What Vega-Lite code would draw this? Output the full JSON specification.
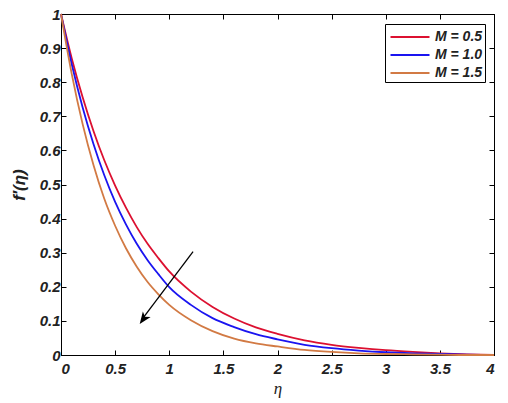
{
  "$schema": "https://vega.github.io/schema/vega-lite/v6.json",
  "width": 433,
  "height": 341,
  "autosize": "none",
  "padding": {"left": 61, "top": 14, "right": 14, "bottom": 48},
  "background": "white",
  "config": {
    "view": {"stroke": "black", "strokeWidth": 1},
    "axis": {
      "grid": false,
      "domainColor": "black",
      "tickColor": "black",
      "tickSize": -5,
      "labelFont": "Liberation Sans",
      "labelFontWeight": "bold",
      "labelFontStyle": "italic",
      "labelFontSize": 15,
      "labelColor": "#222",
      "titleColor": "#222"
    }
  },
  "datasets": {
    "curves": [
      {"eta": 0, "f": 1.0, "M": "M = 0.5"},
      {"eta": 0.1, "f": 0.869, "M": "M = 0.5"},
      {"eta": 0.2, "f": 0.756, "M": "M = 0.5"},
      {"eta": 0.3, "f": 0.657, "M": "M = 0.5"},
      {"eta": 0.4, "f": 0.571, "M": "M = 0.5"},
      {"eta": 0.5, "f": 0.497, "M": "M = 0.5"},
      {"eta": 0.6, "f": 0.432, "M": "M = 0.5"},
      {"eta": 0.7, "f": 0.375, "M": "M = 0.5"},
      {"eta": 0.8, "f": 0.326, "M": "M = 0.5"},
      {"eta": 0.9, "f": 0.284, "M": "M = 0.5"},
      {"eta": 1.0, "f": 0.245, "M": "M = 0.5"},
      {"eta": 1.2, "f": 0.186, "M": "M = 0.5"},
      {"eta": 1.4, "f": 0.141, "M": "M = 0.5"},
      {"eta": 1.6, "f": 0.107, "M": "M = 0.5"},
      {"eta": 1.8, "f": 0.081, "M": "M = 0.5"},
      {"eta": 2.0, "f": 0.062, "M": "M = 0.5"},
      {"eta": 2.25, "f": 0.043, "M": "M = 0.5"},
      {"eta": 2.5, "f": 0.030, "M": "M = 0.5"},
      {"eta": 2.75, "f": 0.021, "M": "M = 0.5"},
      {"eta": 3.0, "f": 0.014, "M": "M = 0.5"},
      {"eta": 3.25, "f": 0.009, "M": "M = 0.5"},
      {"eta": 3.5, "f": 0.005, "M": "M = 0.5"},
      {"eta": 3.75, "f": 0.002, "M": "M = 0.5"},
      {"eta": 4.0, "f": 0.0, "M": "M = 0.5"},
      {"eta": 0, "f": 1.0, "M": "M = 1.0"},
      {"eta": 0.1, "f": 0.852, "M": "M = 1.0"},
      {"eta": 0.2, "f": 0.726, "M": "M = 1.0"},
      {"eta": 0.3, "f": 0.619, "M": "M = 1.0"},
      {"eta": 0.4, "f": 0.527, "M": "M = 1.0"},
      {"eta": 0.5, "f": 0.449, "M": "M = 1.0"},
      {"eta": 0.6, "f": 0.383, "M": "M = 1.0"},
      {"eta": 0.7, "f": 0.326, "M": "M = 1.0"},
      {"eta": 0.8, "f": 0.278, "M": "M = 1.0"},
      {"eta": 0.9, "f": 0.237, "M": "M = 1.0"},
      {"eta": 1.0, "f": 0.199, "M": "M = 1.0"},
      {"eta": 1.2, "f": 0.147, "M": "M = 1.0"},
      {"eta": 1.4, "f": 0.108, "M": "M = 1.0"},
      {"eta": 1.6, "f": 0.082, "M": "M = 1.0"},
      {"eta": 1.8, "f": 0.061, "M": "M = 1.0"},
      {"eta": 2.0, "f": 0.046, "M": "M = 1.0"},
      {"eta": 2.25, "f": 0.030, "M": "M = 1.0"},
      {"eta": 2.5, "f": 0.020, "M": "M = 1.0"},
      {"eta": 2.75, "f": 0.013, "M": "M = 1.0"},
      {"eta": 3.0, "f": 0.008, "M": "M = 1.0"},
      {"eta": 3.25, "f": 0.005, "M": "M = 1.0"},
      {"eta": 3.5, "f": 0.003, "M": "M = 1.0"},
      {"eta": 3.75, "f": 0.001, "M": "M = 1.0"},
      {"eta": 4.0, "f": 0.0, "M": "M = 1.0"},
      {"eta": 0, "f": 1.0, "M": "M = 1.5"},
      {"eta": 0.1, "f": 0.823, "M": "M = 1.5"},
      {"eta": 0.2, "f": 0.677, "M": "M = 1.5"},
      {"eta": 0.3, "f": 0.557, "M": "M = 1.5"},
      {"eta": 0.4, "f": 0.458, "M": "M = 1.5"},
      {"eta": 0.5, "f": 0.379, "M": "M = 1.5"},
      {"eta": 0.6, "f": 0.313, "M": "M = 1.5"},
      {"eta": 0.7, "f": 0.259, "M": "M = 1.5"},
      {"eta": 0.8, "f": 0.214, "M": "M = 1.5"},
      {"eta": 0.9, "f": 0.178, "M": "M = 1.5"},
      {"eta": 1.0, "f": 0.147, "M": "M = 1.5"},
      {"eta": 1.2, "f": 0.102, "M": "M = 1.5"},
      {"eta": 1.4, "f": 0.070, "M": "M = 1.5"},
      {"eta": 1.6, "f": 0.048, "M": "M = 1.5"},
      {"eta": 1.8, "f": 0.034, "M": "M = 1.5"},
      {"eta": 2.0, "f": 0.025, "M": "M = 1.5"},
      {"eta": 2.25, "f": 0.015, "M": "M = 1.5"},
      {"eta": 2.5, "f": 0.009, "M": "M = 1.5"},
      {"eta": 2.75, "f": 0.005, "M": "M = 1.5"},
      {"eta": 3.0, "f": 0.003, "M": "M = 1.5"},
      {"eta": 3.25, "f": 0.002, "M": "M = 1.5"},
      {"eta": 3.5, "f": 0.001, "M": "M = 1.5"},
      {"eta": 3.75, "f": 0.0, "M": "M = 1.5"},
      {"eta": 4.0, "f": 0.0, "M": "M = 1.5"}
    ],
    "arrow": [
      {"eta": 1.22, "f": 0.303},
      {"eta": 0.75, "f": 0.105}
    ],
    "arrowhead": [
      {"eta": 0.727, "f": 0.091}
    ]
  },
  "layer": [
    {
      "data": {"name": "curves"},
      "mark": {"type": "line", "strokeWidth": 1.8, "interpolate": "monotone"},
      "encoding": {
        "x": {
          "field": "eta", "type": "quantitative",
          "scale": {"domain": [0, 4], "nice": false, "zero": false},
          "axis": {
            "orient": "bottom",
            "values": [0, 0.5, 1, 1.5, 2, 2.5, 3, 3.5, 4],
            "format": "~g",
            "labelPadding": 11,
            "title": "η",
            "titleFont": "Liberation Serif",
            "titleFontStyle": "italic",
            "titleFontWeight": "normal",
            "titleFontSize": 17,
            "titlePadding": 4
          }
        },
        "y": {
          "field": "f", "type": "quantitative",
          "scale": {"domain": [0, 1], "nice": false},
          "axis": {
            "orient": "left",
            "values": [0, 0.1, 0.2, 0.3, 0.4, 0.5, 0.6, 0.7, 0.8, 0.9, 1],
            "format": "~g",
            "labelPadding": 6,
            "title": "f′(η)",
            "titleFont": "Liberation Sans",
            "titleFontStyle": "italic",
            "titleFontWeight": "bold",
            "titleFontSize": 17,
            "titlePadding": 11
          }
        },
        "color": {
          "field": "M", "type": "nominal",
          "scale": {
            "domain": ["M = 0.5", "M = 1.0", "M = 1.5"],
            "range": ["#dc1030", "#1a14f0", "#d27a44"]
          },
          "legend": {
            "title": null,
            "orient": "none",
            "legendX": 324,
            "legendY": 10,
            "fillColor": "white",
            "strokeColor": "black",
            "padding": 2,
            "symbolType": "M-2,0H2",
            "symbolSize": 380,
            "symbolStrokeWidth": 1.8,
            "symbolOffset": 12,
            "rowPadding": -2,
            "labelOffset": 14,
            "labelFont": "Liberation Sans",
            "labelFontWeight": "bold",
            "labelFontStyle": "italic",
            "labelFontSize": 14,
            "labelColor": "#222"
          }
        }
      }
    },
    {
      "data": {"name": "arrow"},
      "mark": {"type": "line", "color": "black", "strokeWidth": 1.3},
      "encoding": {
        "x": {
          "field": "eta", "type": "quantitative",
          "scale": {"domain": [0, 4], "nice": false, "zero": false},
          "axis": {"orient": "top", "values": [0, 0.5, 1, 1.5, 2, 2.5, 3, 3.5, 4], "labels": false, "title": null}
        },
        "y": {
          "field": "f", "type": "quantitative",
          "scale": {"domain": [0, 1], "nice": false},
          "axis": {"orient": "right", "values": [0, 0.1, 0.2, 0.3, 0.4, 0.5, 0.6, 0.7, 0.8, 0.9, 1], "labels": false, "title": null}
        }
      }
    },
    {
      "data": {"name": "arrowhead"},
      "mark": {
        "type": "point",
        "shape": "M0,0 L0.4,1 L0,0.75 L-0.4,1 Z",
        "size": 576,
        "angle": 216,
        "filled": true,
        "color": "black",
        "opacity": 1
      },
      "encoding": {
        "x": {"field": "eta", "type": "quantitative", "axis": null},
        "y": {"field": "f", "type": "quantitative", "axis": null}
      }
    }
  ],
  "resolve": {"axis": {"x": "independent", "y": "independent"}}
}
